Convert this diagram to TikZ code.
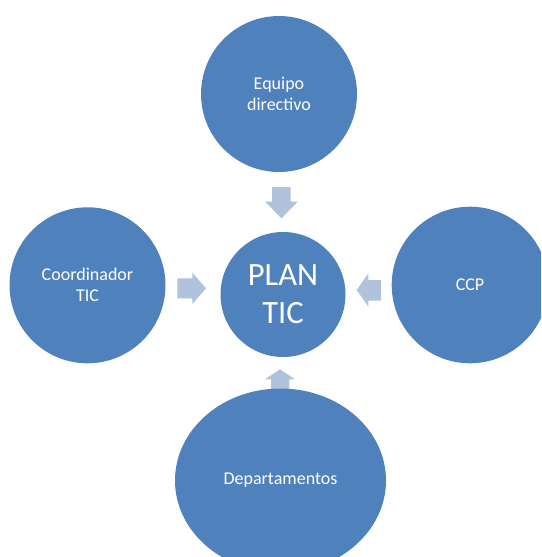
\documentclass[tikz,border=0pt]{standalone}
\usepackage{fontspec}
\setmainfont{Carlito}
\usetikzlibrary{shapes.geometric}
\definecolor{bubble}{HTML}{4F81BD}
\definecolor{arrowfill}{HTML}{B1C2DD}
\tikzset{
  bubble/.style={circle, fill=bubble, draw=none, inner sep=0pt, text=white, align=center,
    font=\fontsize{18}{21}\selectfont},
  bigbubble/.style={bubble, font=\fontsize{32.5}{38}\selectfont},
  blockarrow/.style={fill=arrowfill, draw=none}
}
\begin{document}
\begin{tikzpicture}[x=1pt,y=-1pt]
\useasboundingbox (0,0) rectangle (541,557);
\clip (0,0) rectangle (541,557);
% block arrows
\fill[blockarrow] (272,187) -- (290.7,187) -- (290.7,201.7) -- (297.7,201.7) -- (281.5,218.3) -- (265,201.7) -- (272,201.7) -- cycle;
\fill[blockarrow] (177.3,278.3) -- (192.3,278.3) -- (192.3,272.7) -- (206,288.3) -- (192.3,304) -- (192.3,298.3) -- (177.3,298.3) -- cycle;
\fill[blockarrow] (381,280) -- (368.3,280) -- (368.3,273.3) -- (356.7,290) -- (368.3,306.7) -- (368.3,300.7) -- (381,300.7) -- cycle;
\fill[blockarrow] (271,395) -- (271,379.3) -- (265,379.3) -- (280,369.3) -- (295,379.3) -- (289.3,379.3) -- (289.3,395) -- cycle;
% bubbles
\node[bubble, minimum size=156pt] (top) at (279,94) {Equipo\\directivo};
\node[bubble, minimum size=156pt] (left) at (87.5,285.3) {Coordinador\\TIC};
\node[bubble, minimum size=156.6pt] (right) at (470,285) {CCP};
\node[bigbubble, minimum size=125pt] (plan) at (283,294.5) {PLAN\\TIC};
\node[bubble, ellipse, minimum width=211pt, minimum height=184pt] (dep) at (280.5,480.5) {Departamentos};
\end{tikzpicture}
\end{document}
